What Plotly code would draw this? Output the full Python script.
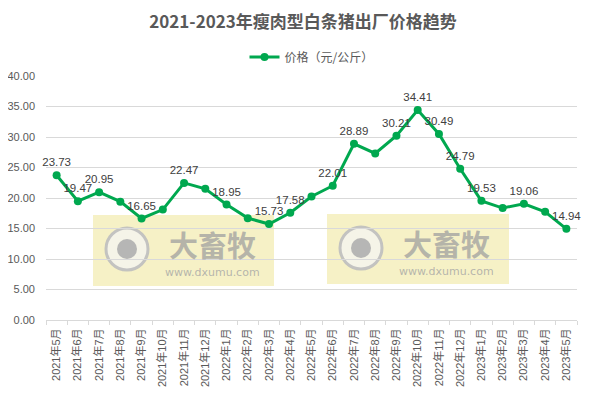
import plotly.graph_objects as go

months = ["2021年5月", "2021年6月", "2021年7月", "2021年8月", "2021年9月", "2021年10月",
          "2021年11月", "2021年12月", "2022年1月", "2022年2月", "2022年3月", "2022年4月",
          "2022年5月", "2022年6月", "2022年7月", "2022年8月", "2022年9月", "2022年10月",
          "2022年11月", "2022年12月", "2023年1月", "2023年2月", "2023年3月", "2023年4月",
          "2023年5月"]
prices = [23.73, 19.47, 20.95, 19.40, 16.65, 18.10, 22.47, 21.50, 18.95, 16.70, 15.73, 17.58,
          20.25, 22.01, 28.89, 27.30, 30.21, 34.41, 30.49, 24.79, 19.53, 18.35, 19.06, 17.75,
          14.94]
show_label = [True, True, True, False, True, False, True, False, True, False, True, True,
              False, True, True, False, True, True, True, True, True, False, True, False, True]
y_ticks = [0, 5, 10, 15, 20, 25, 30, 35, 40]

labels = [f"{v:.2f}" if s else "" for v, s in zip(prices, show_label)]
green = "#00A84F"
grey = "#595959"
font_fam = "Liberation Sans, Noto Sans CJK SC, sans-serif"

fig = go.Figure()
fig.add_trace(go.Scatter(
    x=months, y=prices, mode="lines+markers+text",
    name="价格（元/公斤）",
    line=dict(color=green, width=3),
    marker=dict(color=green, size=8),
    text=labels, textposition="top center", cliponaxis=False,
    textfont=dict(size=11.5, color="#404040", family=font_fam),
))

# page body has an 8px margin: work in reference pixels, shift by O
O = 8
W, H = 598 - O, 399 - O
ml, mr, mt, mb = 46 - O, 21, 76 - O, 79
PW, PH = W - ml - mr, H - mt - mb


def fx(v):
    return (v - O - ml) / PW


def fy(v):
    return (H - mb - (v - O)) / PH


shapes = []
annotations = []
for (x0, y0, x1, y1) in [(93, 215, 274, 286), (327, 214, 509, 284)]:
    shapes.append(dict(type="rect", xref="paper", yref="paper",
                       x0=fx(x0), x1=fx(x1), y0=fy(y1), y1=fy(y0),
                       fillcolor="rgba(240,232,160,0.6)", line=dict(width=0), layer="below"))
    cx, cy, r = x0 + 34, y0 + 34, 21
    shapes.append(dict(type="circle", xref="paper", yref="paper",
                       x0=fx(cx - r), x1=fx(cx + r), y0=fy(cy + r), y1=fy(cy - r),
                       fillcolor="rgba(245,245,240,0.8)", line=dict(color="rgba(190,190,190,0.9)", width=3),
                       layer="below"))
    r2 = 10
    shapes.append(dict(type="circle", xref="paper", yref="paper",
                       x0=fx(cx - r2), x1=fx(cx + r2), y0=fy(cy + r2), y1=fy(cy - r2),
                       fillcolor="rgba(175,175,175,0.9)", line=dict(width=0), layer="below"))
    annotations.append(dict(xref="paper", yref="paper", x=fx(x0 + 119), y=fy(y0 + 29),
                            text="<b>大畜牧</b>", showarrow=False,
                            font=dict(size=29, color="rgba(160,160,160,0.75)",
                                      family="Noto Sans CJK SC"), xanchor="center", yanchor="middle"))
    annotations.append(dict(xref="paper", yref="paper", x=fx(x0 + 119), y=fy(y0 + 57),
                            text="www.dxumu.com", showarrow=False,
                            font=dict(size=11, color="rgba(165,165,165,0.8)", family="DejaVu Sans"),
                            xanchor="center", yanchor="middle"))

fig.update_layout(
    width=W, height=H,
    margin=dict(l=ml, r=mr, t=mt, b=mb, autoexpand=False),
    paper_bgcolor="white", plot_bgcolor="white",
    title=dict(text="<b>2021-2023年瘦肉型白条猪出厂价格趋势</b>", x=0.5, xanchor="center",
               y=1 - (22 - O) / H, yanchor="middle",
               font=dict(size=17, color=grey, family="Noto Sans CJK SC")),
    showlegend=True,
    legend=dict(orientation="h", x=0.5, xanchor="center", y=1 - (57 - O) / H, yref="container",
                yanchor="middle", font=dict(size=12, color=grey, family="Noto Sans CJK SC")),
    xaxis=dict(type="category", range=[-0.5, len(months) - 0.5], tickangle=-90,
               showgrid=False, showline=True, automargin=False,
               linecolor="#D9D9D9", ticks="outside", tickson="boundaries", ticklen=4,
               tickcolor="#D9D9D9", ticklabelstandoff=3,
               tickfont=dict(size=11, color=grey, family=font_fam)),
    yaxis=dict(range=[0, 40], tickvals=y_ticks, tickformat=".2f", showgrid=True, automargin=False,
               gridcolor="#D9D9D9", zeroline=False, showline=False, ticklabelstandoff=10,
               tickfont=dict(size=11, color=grey, family=font_fam)),
    shapes=shapes, annotations=annotations,
)

fig.write_html("out.html")
